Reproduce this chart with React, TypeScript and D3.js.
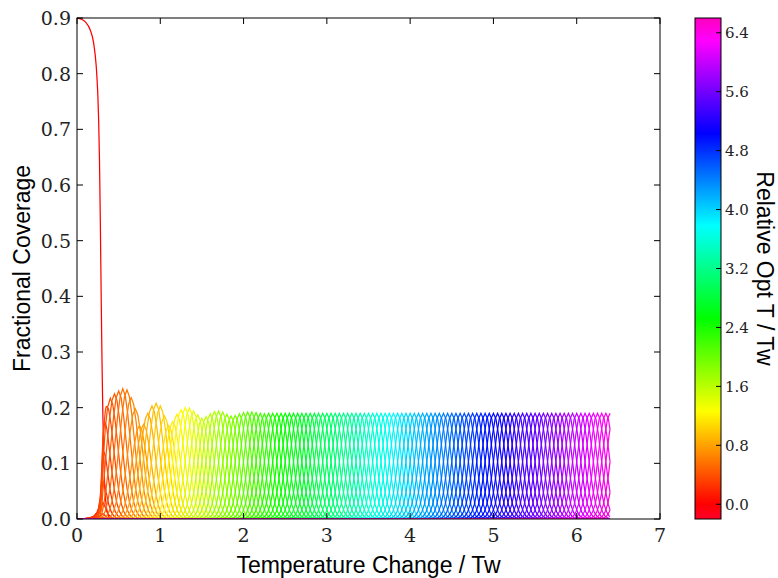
import React from "react";
import * as d3 from "d3";

const W = 778;
const H = 578;
const PL = 77, PR = 660, PT = 18, PB = 519;
const CBL = 695, CBR = 721;

// Initial dominant species (optimum T = 0)
const initX = [0, 0.05, 0.1, 0.16, 0.2, 0.23, 0.24, 0.25, 0.26, 0.27, 0.28, 0.29, 0.3, 0.31, 0.32, 0.33, 0.35, 0.38, 0.42, 6.4];
const initY = [0.9, 0.898, 0.893, 0.878, 0.855, 0.815, 0.792, 0.762, 0.716, 0.645, 0.535, 0.405, 0.285, 0.192, 0.12, 0.07, 0.025, 0.005, 0, 0];

// Optimum temperatures of the other species (0.05 .. 6.60)
const optT = d3.range(1, 133).map((i) => +(i * 0.05).toFixed(2));

// Peak coverage of each species
const peaks = [
  0.2, 0.2, 0.2, 0.2, 0.2,
  0.205, 0.21, 0.217, 0.225, 0.23, 0.234,
  0.232, 0.218, 0.198, 0.168, 0.17, 0.19, 0.203, 0.208, 0.203, 0.185,
  0.168, 0.175, 0.188, 0.196, 0.2, 0.199, 0.194, 0.187, 0.181, 0.184,
  0.189, 0.193, 0.194, 0.192, 0.188, 0.185, 0.186, 0.189, 0.191, 0.192,
  0.192, 0.191, 0.19, 0.189,
  0.19, 0.19, 0.19, 0.19, 0.19, 0.19, 0.19, 0.19, 0.19, 0.19,
  0.19, 0.19, 0.19, 0.19, 0.19, 0.19, 0.19, 0.19, 0.19, 0.19,
  0.19, 0.19, 0.19, 0.19, 0.19, 0.19, 0.19, 0.19, 0.19, 0.19,
  0.19, 0.19, 0.19, 0.19, 0.19, 0.19, 0.19, 0.19, 0.19, 0.19,
  0.19, 0.19, 0.19, 0.19, 0.19, 0.19, 0.19, 0.19, 0.19, 0.19,
  0.19, 0.19, 0.19, 0.19, 0.19, 0.19, 0.19, 0.19, 0.19, 0.19,
  0.19, 0.19, 0.19, 0.19, 0.19, 0.19, 0.19, 0.19, 0.19, 0.19,
  0.19, 0.19, 0.19, 0.19, 0.19, 0.19, 0.19, 0.19, 0.19, 0.19,
  0.19, 0.19, 0.19, 0.19, 0.19, 0.19, 0.19,
];

// Shape of one coverage bump (offset from optimum, relative height)
const profOffset = [-0.36, -0.33, -0.3, -0.27, -0.24, -0.21, -0.18, -0.15, -0.12, -0.09, -0.06, -0.03, 0, 0.03, 0.06, 0.09, 0.12, 0.15, 0.18, 0.21, 0.24, 0.27, 0.3, 0.33, 0.36];
const profValue = [0, 0.0012, 0.0039, 0.0111, 0.0286, 0.066, 0.135, 0.249, 0.411, 0.607, 0.801, 0.946, 1, 0.946, 0.801, 0.607, 0.411, 0.249, 0.135, 0.066, 0.0286, 0.0111, 0.0039, 0.0012, 0];

// Release of the other species as the initial one collapses
const releaseX = [0, 0.1, 0.15, 0.2, 0.24, 0.26, 0.28, 0.29, 0.3, 0.31, 0.32, 0.34, 0.36, 0.4];
const releaseR = [0, 0.005, 0.01, 0.025, 0.06, 0.1, 0.2, 0.32, 0.5, 0.7, 0.82, 0.94, 0.98, 1];

const xTicks = [0, 1, 2, 3, 4, 5, 6, 7];
const yTicks = [0, 0.1, 0.2, 0.3, 0.4, 0.5, 0.6, 0.7, 0.8, 0.9];
const cbTicks = [0, 0.8, 1.6, 2.4, 3.2, 4.0, 4.8, 5.6, 6.4];
const cbDomain = [-0.2, 6.6];

// gist_rainbow
const cmapPos = [0, 0.03, 0.215, 0.4, 0.586, 0.77, 0.954, 1];
const cmapColors = ["rgb(255,0,41)", "rgb(255,0,0)", "rgb(255,255,0)", "rgb(0,255,0)", "rgb(0,255,255)", "rgb(0,0,255)", "rgb(255,0,255)", "rgb(255,0,191)"];

export default function App() {
  const x = d3.scaleLinear().domain([0, 7]).range([PL, PR]);
  const y = d3.scaleLinear().domain([0, 0.9]).range([PB, PT]);
  const cb = d3.scaleLinear().domain(cbDomain).range([PB, PT]);
  const cmap = d3.scaleLinear<string>().domain(cmapPos).range(cmapColors).interpolate(d3.interpolateRgb).clamp(true);
  const norm = d3.scaleLinear().domain(cbDomain).range([0, 1]);
  const profile = d3.scaleLinear().domain(profOffset).range(profValue).clamp(true);
  const release = d3.scaleLinear().domain(releaseX).range(releaseR).clamp(true);
  const xGrid = d3.range(0, 641).map((i) => i / 100);

  const line = d3.line<[number, number]>().x((d) => x(d[0])).y((d) => y(d[1]));
  const initLine = d3.line<[number, number]>().x((d) => x(d[0])).y((d) => y(d[1])).curve(d3.curveMonotoneX);

  const species = optT.map((c, i) => {
    const pts: [number, number][] = xGrid.map((t) => [t, peaks[i] * profile(t - c) * release(t)]);
    return { c, d: line(pts) as string, color: cmap(norm(c)) };
  });
  const initPts: [number, number][] = initX.map((t, i) => [t, initY[i]]);

  const tickLen = 6;
  const serif = "DejaVu Serif";
  const sans = "Liberation Sans, Arial, sans-serif";

  return (
    <svg width={W} height={H} style={{ position: "absolute", left: 0, top: 0, background: "#fff" }} xmlns="http://www.w3.org/2000/svg">
      <defs>
        <clipPath id="plotclip">
          <rect x={PL} y={PT - 2} width={PR - PL} height={PB - PT + 2} />
        </clipPath>
        <linearGradient id="cbgrad" x1="0" y1="1" x2="0" y2="0">
          {cmapPos.map((p, i) => (
            <stop key={i} offset={p} stopColor={cmapColors[i]} />
          ))}
        </linearGradient>
      </defs>
      <rect x={0} y={0} width={W} height={H} fill="#fff" />
      <g clipPath="url(#plotclip)" fill="none" strokeWidth={1.25}>
        <path d={initLine(initPts) as string} stroke={cmap(norm(0))} />
        {species.map((s, i) => (
          <path key={i} d={s.d} stroke={s.color} />
        ))}
      </g>
      {/* frame */}
      <rect x={PL} y={PT} width={PR - PL} height={PB - PT} fill="none" stroke="#000" strokeWidth={1} />
      {/* x ticks */}
      {xTicks.map((t) => (
        <g key={"x" + t}>
          <line x1={x(t)} x2={x(t)} y1={PB} y2={PB - tickLen} stroke="#000" />
          <line x1={x(t)} x2={x(t)} y1={PT} y2={PT + tickLen} stroke="#000" />
          <text x={x(t)} y={542} textAnchor="middle" fontFamily={serif} fontSize={19} fill="#222">
            {t}
          </text>
        </g>
      ))}
      {yTicks.map((t) => (
        <g key={"y" + t}>
          <line x1={PL} x2={PL + tickLen} y1={y(t)} y2={y(t)} stroke="#000" />
          <line x1={PR} x2={PR - tickLen} y1={y(t)} y2={y(t)} stroke="#000" />
          <text x={71} y={y(t)} dy="0.36em" textAnchor="end" fontFamily={serif} fontSize={19} fill="#222">
            {t.toFixed(1)}
          </text>
        </g>
      ))}
      <text x={(PL + PR) / 2} y={573} textAnchor="middle" fontFamily={sans} fontSize={23} fill="#000">
        Temperature Change / Tw
      </text>
      <text transform={`translate(30,${(PT + PB) / 2}) rotate(-90)`} textAnchor="middle" fontFamily={sans} fontSize={23} fill="#000">
        Fractional Coverage
      </text>
      {/* colorbar */}
      <rect x={CBL} y={PT} width={CBR - CBL} height={PB - PT} fill="url(#cbgrad)" stroke="#000" strokeWidth={1} />
      {cbTicks.map((t) => (
        <g key={"c" + t}>
          <line x1={CBR} x2={CBR - 5} y1={cb(t)} y2={cb(t)} stroke="#000" />
          <text x={725} y={cb(t)} dy="0.36em" textAnchor="start" fontFamily={serif} fontSize={15} fill="#222">
            {t.toFixed(1)}
          </text>
        </g>
      ))}
      <text transform={`translate(757,${(PT + PB) / 2}) rotate(90)`} textAnchor="middle" fontFamily={sans} fontSize={23} fill="#000">
        Relative Opt T / Tw
      </text>
    </svg>
  );
}
